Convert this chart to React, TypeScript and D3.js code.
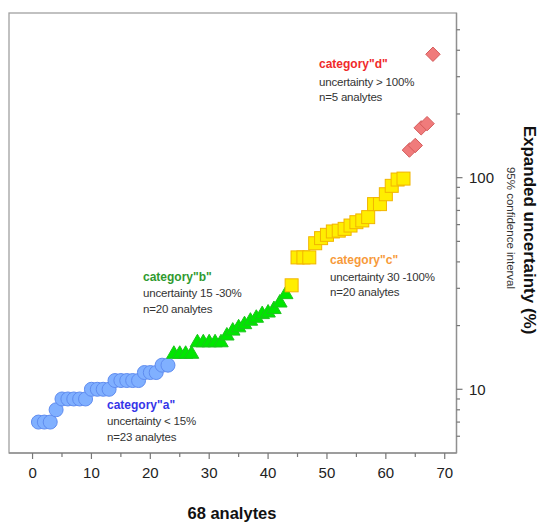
import React from "react";
import * as d3 from "d3";

const catA: number[] = [7, 7, 7, 8, 9, 9, 9, 9, 9, 10, 10, 10, 10, 11, 11, 11, 11, 11, 12, 12, 12, 13, 13];
const catB: number[] = [15, 15, 15, 15, 17, 17, 17, 17, 17, 18.3, 19.3, 20, 20.7, 21.5, 22.2, 23.1, 23.5, 24.4, 26.2, 28.7];
const catC: number[] = [31, 42, 42, 42, 49, 51.8, 53.7, 55.7, 56.2, 57.3, 59.4, 61.6, 62.8, 65.1, 75, 75, 83.5, 91.5, 98, 99];
const catD: number[] = [135, 142, 172, 180, 383];

const xTicks: number[] = [0, 10, 20, 30, 40, 50, 60, 70];
const xMinorTicks: number[] = [5, 15, 25, 35, 45, 55, 65];
const yTicks: number[] = [10, 100];
const yMinorTicks: number[] = [6, 7, 8, 9, 20, 30, 40, 50, 60, 70, 80, 90, 200, 300, 400, 500];

const xLabel = "68 analytes";
const yLabel = "Expanded uncertainty (%)";
const ySubLabel = "95% confidence interval";

const FONT = "'Liberation Sans', Arial, sans-serif";

export default function App() {
  const W = 539, H = 524;
  const left = 9, right = 456.5, top = 13, bottom = 453;
  const x = d3.scaleLinear().domain([-4, 72]).range([left, right]);
  const y = d3.scaleLog().domain([5, 600]).range([bottom, top]);

  const offA = 1, offB = offA + catA.length, offC = offB + catC.length * 0 + catB.length + 0 - 0, offD = offC + catC.length;
  void offD;

  const triPath = (cx: number, cy: number) => {
    const w = 14.5, h = 12.5;
    return `M${cx},${cy - h / 2}L${cx + w / 2},${cy + h / 2}L${cx - w / 2},${cy + h / 2}Z`;
  };
  const diaPath = (cx: number, cy: number) => {
    const r = 7.2;
    return `M${cx},${cy - r}L${cx + r},${cy}L${cx},${cy + r}L${cx - r},${cy}Z`;
  };

  const textLines = [
    { x: 107, y: 409, t: 'category"a"', c: "#3535e8", bold: true },
    { x: 107, y: 425, t: "uncertainty < 15%", c: "#333", bold: false },
    { x: 107, y: 441, t: "n=23 analytes", c: "#333", bold: false },
    { x: 143, y: 281, t: 'category"b"', c: "#2f9a2f", bold: true },
    { x: 143, y: 297, t: "uncertainty 15 -30%", c: "#333", bold: false },
    { x: 143, y: 313, t: "n=20 analytes", c: "#333", bold: false },
    { x: 330, y: 264, t: 'category"c"', c: "#f79a3a", bold: true },
    { x: 330, y: 281, t: "uncertainty 30 -100%", c: "#333", bold: false },
    { x: 330, y: 296, t: "n=20 analytes", c: "#333", bold: false },
    { x: 319, y: 68, t: 'category"d"', c: "#f02a2a", bold: true },
    { x: 319, y: 86, t: "uncertainty > 100%", c: "#333", bold: false },
    { x: 319, y: 101, t: "n=5 analytes", c: "#333", bold: false },
  ];

  const offCc = offB + catB.length;
  const offDd = offCc + catC.length;

  return (
    <svg width={W} height={H} style={{ position: "absolute", left: 0, top: 0, background: "#fff" }} fontFamily={FONT}>
      <rect x={left} y={top} width={right - left} height={bottom - top} fill="none" stroke="#a0a0a0" strokeWidth={1.3} />
      <line x1={right} x2={right} y1={top} y2={bottom} stroke="#909090" strokeWidth={1.3} />
      <line x1={left} x2={right} y1={bottom} y2={bottom} stroke="#909090" strokeWidth={1.3} />

      {xTicks.map((t) => (
        <g key={"xt" + t}>
          <line x1={x(t)} x2={x(t)} y1={bottom} y2={bottom + 6} stroke="#777" strokeWidth={1.2} />
          <text x={x(t)} y={478} textAnchor="middle" fontSize={15} fill="#222">{t}</text>
        </g>
      ))}
      {xMinorTicks.map((t) => (
        <line key={"xm" + t} x1={x(t)} x2={x(t)} y1={bottom} y2={bottom + 4} stroke="#777" strokeWidth={1.2} />
      ))}
      {yTicks.map((t) => (
        <g key={"yt" + t}>
          <line x1={right} x2={right + 6} y1={y(t)} y2={y(t)} stroke="#777" strokeWidth={1.2} />
          <text x={469} y={y(t) + 5.5} fontSize={15} fill="#222">{t}</text>
        </g>
      ))}
      {yMinorTicks.map((t) => (
        <line key={"ym" + t} x1={right} x2={right + 3.5} y1={y(t)} y2={y(t)} stroke="#777" strokeWidth={1.2} />
      ))}

      {catA.map((v, i) => (
        <circle key={"a" + i} cx={x(offA + i)} cy={y(v)} r={7} fill="#80b0ff" stroke="#5f8cf0" strokeWidth={1} />
      ))}
      {catB.map((v, i) => (
        <path key={"b" + i} d={triPath(x(offB + i), y(v))} fill="#00e600" stroke="#1cc41c" strokeWidth={1} />
      ))}
      {catC.map((v, i) => (
        <rect key={"c" + i} x={x(offCc + i) - 6.5} y={y(v) - 6.5} width={13} height={13} fill="#ffee00" stroke="#f2b400" strokeWidth={1} />
      ))}
      {catD.map((v, i) => (
        <path key={"d" + i} d={diaPath(x(offDd + i), y(v))} fill="#f07b7b" stroke="#d45a5a" strokeWidth={1} />
      ))}

      {textLines.map((l, i) => (
        <text key={"tl" + i} x={l.x} y={l.y} fontSize={l.bold ? 12 : 11.5} fontWeight={l.bold ? "bold" : "normal"} fill={l.c} letterSpacing={l.bold ? 0 : -0.2}>
          {l.t}
        </text>
      ))}

      <text x={232} y={519} textAnchor="middle" fontSize={16.5} fontWeight="bold" fill="#111">{xLabel}</text>
      <text transform={`translate(524,230) rotate(90)`} textAnchor="middle" fontSize={17} fontWeight="bold" fill="#111">{yLabel}</text>
      <text transform={`translate(507,228) rotate(90)`} textAnchor="middle" fontSize={11.5} fill="#333">{ySubLabel}</text>
    </svg>
  );
}
